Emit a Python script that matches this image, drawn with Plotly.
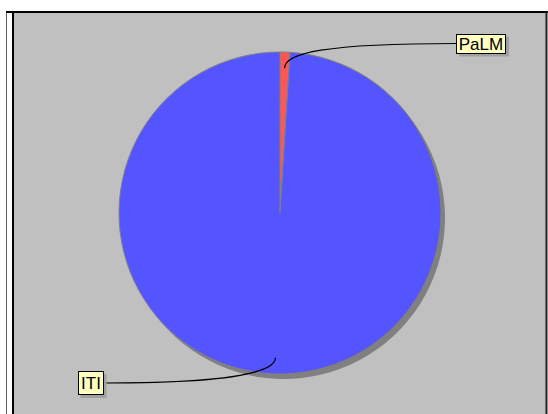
import math
import plotly.graph_objects as go

# ---- data ----
labels = ["PaLM", "ITI"]
values = [1.0, 99.0]
colors = ["#ff5555", "#5555ff"]

# ---- layout constants (pixels) ----
W, H = 548, 414
CX, CY, R = 280, 213, 161
SHADOW_DX, SHADOW_DY = 4, 5
BOX_POS = {"PaLM": (481, 43.5), "ITI": (90.5, 383)}   # label box centres
BOX_SIZE = {"PaLM": (50, 20), "ITI": (26, 24)}


def px(x):
    return x / W


def py(y):
    return 1 - y / H


def domain(cx, cy, r):
    return dict(x=[px(cx - r), px(cx + r)], y=[py(cy + r), py(cy - r)])


fig = go.Figure()

# shadow
fig.add_trace(go.Pie(
    values=values, labels=labels, sort=False, direction="clockwise",
    marker=dict(colors=["#808080"] * len(values), line=dict(width=0)),
    textinfo="none", hoverinfo="skip", showlegend=False,
    domain=domain(CX + SHADOW_DX, CY + SHADOW_DY, R),
))
# pie
fig.add_trace(go.Pie(
    values=values, labels=labels, sort=False, direction="clockwise",
    marker=dict(colors=colors, line=dict(color="#808080", width=1)),
    textinfo="none", showlegend=False,
    domain=domain(CX, CY, R),
))

shapes = [
    # gray plot area
    dict(type="rect", xref="paper", yref="paper", x0=px(13), x1=px(547),
         y0=py(H + 5), y1=py(12), fillcolor="#c0c0c0", line=dict(width=0), layer="below"),
    # outer left thin line
    dict(type="line", xref="paper", yref="paper", x0=px(6.5), x1=px(6.5),
         y0=py(12), y1=py(H + 5), line=dict(color="#606060", width=1)),
    # inner left black line
    dict(type="line", xref="paper", yref="paper", x0=px(13), x1=px(13),
         y0=py(12), y1=py(H + 5), line=dict(color="#000000", width=2)),
    # top line
    dict(type="line", xref="paper", yref="paper", x0=px(6), x1=px(W),
         y0=py(12), y1=py(12), line=dict(color="#000000", width=2)),
    # right line
    dict(type="line", xref="paper", yref="paper", x0=px(546.5), x1=px(546.5),
         y0=py(12), y1=py(H + 5), line=dict(color="#202020", width=2)),
]

annotations = []
total = sum(values)
cum = 0.0
for lab, val in zip(labels, values):
    mid = (cum + val / 2) / total * 2 * math.pi
    cum += val
    sx = CX + 0.9 * R * math.sin(mid)
    sy = CY - 0.9 * R * math.cos(mid)
    bx, by = BOX_POS[lab]
    bw, bh = BOX_SIZE[lab]
    # connector end at box edge facing the pie
    if bx > CX:
        ex = bx - bw / 2
        c1 = (sx, sy - 15)
        c2 = (sx + 40, by)
    else:
        ex = bx + bw / 2
        c1 = (sx, sy + 15)
        c2 = (sx - 50, by)
    ey = by
    path = "M {},{} C {},{} {},{} {},{}".format(
        px(sx), py(sy), px(c1[0]), py(c1[1]), px(c2[0]), py(c2[1]), px(ex), py(ey))
    shapes.append(dict(type="path", xref="paper", yref="paper", path=path,
                       line=dict(color="#000000", width=1.2), layer="above"))
    # box shadow
    shapes.append(dict(type="rect", xref="paper", yref="paper",
                       x0=px(bx - bw / 2 + 3), x1=px(bx + bw / 2 + 3),
                       y0=py(by + bh / 2 + 3), y1=py(by - bh / 2 + 3),
                       fillcolor="#a0a0a0", line=dict(width=0), layer="above"))
    annotations.append(dict(
        x=px(bx), y=py(by), xref="paper", yref="paper", text=lab, showarrow=False,
        xanchor="center", yanchor="middle",
        font=dict(family="Liberation Sans, Arial, sans-serif", size=17, color="#000000"),
        bgcolor="#ffffc0", bordercolor="#000000", borderwidth=1, borderpad=0,
        width=bw - 2, height=bh - 2,
    ))

fig.update_layout(
    width=W, height=H, margin=dict(l=0, r=0, t=0, b=0),
    paper_bgcolor="#ffffff", plot_bgcolor="#ffffff",
    shapes=shapes, annotations=annotations, showlegend=False,
)

fig.write_html(
    "out.html",
    config={"displayModeBar": False},
    post_script="document.body.style.margin='0px';document.body.style.overflow='hidden';",
)
